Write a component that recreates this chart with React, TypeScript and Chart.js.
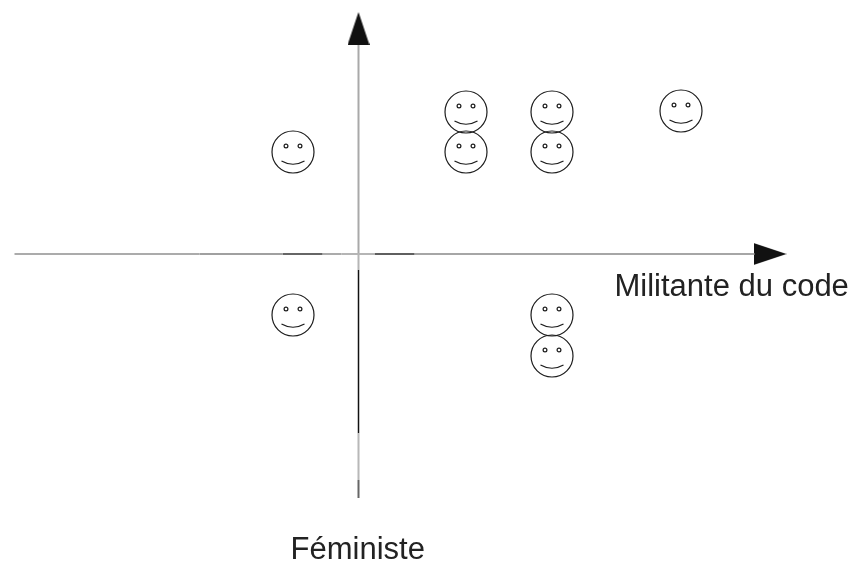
import React, { useEffect, useRef } from "react";
import { Chart, registerables } from "chart.js";

Chart.register(...registerables);

// Values are measured from the crossing of the two axes
const smileyX = [-65.5, 107.5, 107.5, 193.5, 193.5, 322.5, -65.5, 193.5, 193.5];
const smileyY = [102, 142, 102, 142, 102, 143, -61, -61, -102];

const horizontalStops = [-344, -159, -76, -36, -17, 16, 56, 396];
const verticalStops = [209, 0, -16, -179, -226, -244];

const arrowUp = { x: 0, y: 225.5 };
const arrowRight = { x: 411.5, y: 0 };

const xAxisLabel = "Militante du code";
const yAxisLabel = "Féministe";
const xAxisLabelAt = { x: 256, y: -42 };
const yAxisLabelAt = { x: -68, y: -305 };

const horizontalTones = ["#ababab", "#a0a0a0", "#666666", "#ababab", "#b5b5b5", "#5f5f5f", "#a6a6a6"];
const verticalTones = ["#a9a9a9", "#b5b5b5", "#111111", "#b8b8b8", "#666666"];

function makeSmiley() {
  const c = document.createElement("canvas");
  c.width = 46;
  c.height = 46;
  const g = c.getContext("2d")!;
  g.translate(23, 23);
  g.strokeStyle = "#1c1c1c";
  g.lineWidth = 1.2;
  g.beginPath();
  g.arc(0, 0, 21, 0, Math.PI * 2);
  g.stroke();
  for (const ex of [-7, 7]) {
    g.beginPath();
    g.arc(ex, -6, 1.9, 0, Math.PI * 2);
    g.stroke();
  }
  g.beginPath();
  g.moveTo(-11.5, 9);
  g.quadraticCurveTo(0, 15.5, 11.5, 9);
  g.stroke();
  return c;
}

function makeArrow() {
  const c = document.createElement("canvas");
  c.width = 22;
  c.height = 33;
  const g = c.getContext("2d")!;
  g.fillStyle = "#111111";
  g.beginPath();
  g.moveTo(11, 0);
  g.lineTo(22, 33);
  g.lineTo(0, 33);
  g.closePath();
  g.fill();
  return c;
}

const axisLabels = {
  id: "axisLabels",
  afterDatasetsDraw(chart: any) {
    const { ctx, scales } = chart;
    ctx.save();
    ctx.font = '31px "Liberation Sans"';
    ctx.fillStyle = "#222222";
    ctx.textAlign = "left";
    ctx.textBaseline = "alphabetic";
    ctx.fillText(xAxisLabel, scales.x.getPixelForValue(xAxisLabelAt.x), scales.y.getPixelForValue(xAxisLabelAt.y));
    ctx.fillText(yAxisLabel, scales.x.getPixelForValue(yAxisLabelAt.x), scales.y.getPixelForValue(yAxisLabelAt.y));
    ctx.restore();
  },
};

export default function App() {
  const ref = useRef<HTMLCanvasElement>(null);

  useEffect(() => {
    const smiley = makeSmiley();
    const arrow = makeArrow();

    const hSegments = horizontalTones.map((tone, i) => ({
      type: "line" as const,
      data: [
        { x: horizontalStops[i], y: 0 },
        { x: horizontalStops[i + 1], y: 0 },
      ],
      borderColor: tone,
      borderWidth: 2,
      pointRadius: 0,
      showLine: true,
    }));
    const vSegments = verticalTones.map((tone, i) => ({
      type: "line" as const,
      data: [
        { x: 0, y: verticalStops[i] },
        { x: 0, y: verticalStops[i + 1] },
      ],
      borderColor: tone,
      borderWidth: i === 2 ? 1.5 : 2,
      pointRadius: 0,
      showLine: true,
    }));

    const chart = new Chart(ref.current!, {
      type: "scatter",
      data: {
        datasets: [
          ...hSegments,
          ...vSegments,
          {
            data: [arrowUp],
            pointStyle: arrow,
            pointRadius: 16,
            pointRotation: 0,
          },
          {
            data: [arrowRight],
            pointStyle: arrow,
            pointRadius: 16,
            pointRotation: 90,
          },
          {
            data: smileyX.map((x, i) => ({ x, y: smileyY[i] })),
            pointStyle: smiley,
            pointRadius: 22,
          },
        ] as any,
      },
      options: {
        animation: false,
        responsive: false,
        layout: { padding: 0, autoPadding: false },
        plugins: { legend: { display: false }, tooltip: { enabled: false } },
        scales: {
          x: { type: "linear", display: false, min: -358.5, max: 494.5 },
          y: { type: "linear", display: false, min: -308, max: 254 },
        },
      },
      plugins: [axisLabels],
    });
    return () => chart.destroy();
  }, []);

  return (
    <canvas
      ref={ref}
      width={853}
      height={562}
      style={{ position: "fixed", left: 0, top: 0, display: "block", background: "#ffffff" }}
    />
  );
}
